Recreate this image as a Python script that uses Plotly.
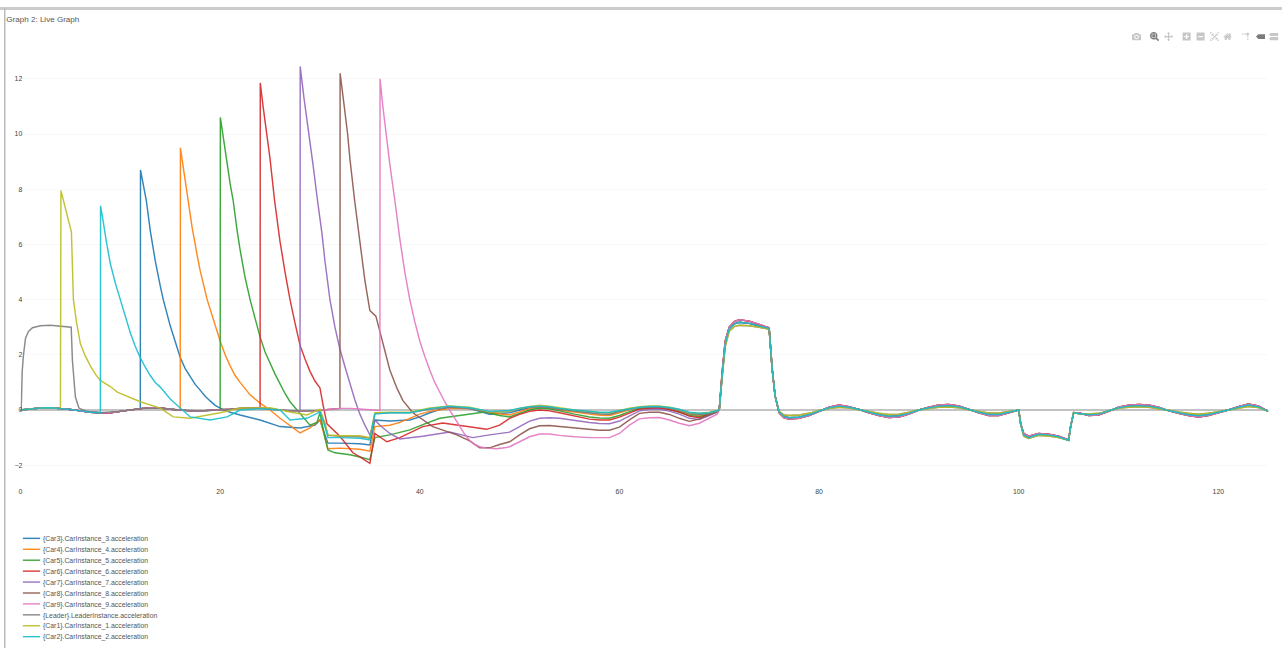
import plotly.graph_objects as go

SCALE = 0.575

NAMES = ["{Car3}.CarInstance_3.acceleration", "{Car4}.CarInstance_4.acceleration",
         "{Car5}.CarInstance_5.acceleration", "{Car6}.CarInstance_6.acceleration",
         "{Car7}.CarInstance_7.acceleration", "{Car8}.CarInstance_8.acceleration",
         "{Car9}.CarInstance_9.acceleration", "{Leader}.LeaderInstance.acceleration",
         "{Car1}.CarInstance_1.acceleration", "{Car2}.CarInstance_2.acceleration"]
COLORS = ["#1f77b4", "#ff7f0e", "#2ca02c", "#d62728", "#9467bd", "#8c564b", "#e377c2",
          "#7f7f7f", "#bcbd22", "#17becf"]

# Shared early ripple, t = 0..36
PRE_X = list(range(0, 37))
PRE_Y = [0, .03, .07, .08, .05, .02, -.03, -.08, -.1, -.1, -.05, 0, .05, .08, .07, .03, 0, -.03, -.03,
         -.01, 0, .03, .06, .08, .07, .04, 0, -.03, -.04, -.04, -.02, .03, .06, .06, .04, .01, -.02]

# Middle part: each car's own samples up to t = 48
C3_X = [12.02, 12.3, 12.6, 13, 13.5, 14, 14.3, 15, 15.5, 16, 16.5, 17, 17.5, 18, 18.5, 19, 19.5, 20, 21, 22, 24, 26, 28, 29.5, 30, 30.4, 30.8, 32, 34, 35, 35.5, 37, 39, 40, 41, 42, 43, 45, 47]
C3_Y = [8.7, 8.2, 7.6, 6.5, 5.4, 4.5, 4, 3.05, 2.45, 1.9, 1.5, 1.2, .93, .72, .5, .33, .17, .07, -.08, -.18, -.36, -.6, -.65, -.55, -.36, -.8, -1.2, -1.2, -1.22, -1.27, -.36, -.4, -.36, -.25, -.1, .02, .1, .05, -.15]
C4_X = [16.02, 16.4, 16.8, 17.2, 17.7, 18, 18.7, 19, 19.5, 20, 20.5, 21, 21.5, 22, 23, 24, 25, 26, 28, 29, 30, 30.4, 30.8, 32, 34, 35, 35.5, 37, 38, 39, 40, 41, 43, 45, 47]
C4_Y = [9.5, 8.6, 7.6, 6.6, 5.6, 5.05, 4, 3.65, 3.05, 2.5, 2, 1.6, 1.25, 1, .55, .25, 0, -.3, -.83, -.65, -.35, -.9, -1.4, -1.38, -1.42, -1.49, -.6, -.55, -.45, -.3, -.15, -.05, .05, .06, -.1]
C5_X = [20.02, 20.5, 21, 21.3, 21.7, 22, 22.5, 23, 23.5, 24, 24.5, 25, 25.5, 26, 26.5, 27, 27.7, 29, 29.7, 30, 30.5, 30.8, 31.5, 33, 34, 35, 35.5, 37, 39, 40.5, 42, 44.5, 46.5, 48]
C5_Y = [10.6, 9.4, 8.2, 7.6, 6.5, 5.8, 4.8, 4, 3.3, 2.65, 2.1, 1.7, 1.3, .95, .6, .3, 0, -.55, -.45, -.1, -1, -1.45, -1.55, -1.62, -1.7, -1.8, -1, -.9, -.72, -.5, -.3, -.18, -.07, -.2]
C6_X = [24.02, 24.3, 24.65, 25, 25.45, 26, 26.5, 27, 27.5, 28, 28.5, 29, 29.5, 30, 30.3, 30.7, 32, 33.3, 34, 35, 35.5, 36.7, 38, 39, 40.3, 42.3, 44.7, 46.7, 48]
C6_Y = [11.85, 11, 10, 9.1, 7.6, 6.1, 5, 4, 3.15, 2.35, 1.85, 1.4, 1.05, .8, .2, -.5, -.95, -1.55, -1.7, -1.93, -.85, -1.15, -1, -.82, -.6, -.47, -.6, -.7, -.55]
C7_X = [28.02, 28.4, 28.9, 29.3, 29.75, 30.2, 30.5, 31, 31.5, 32, 32.6, 33, 33.5, 34, 34.5, 35, 35.5, 36, 37, 38, 40.3, 43, 45.3, 47, 48.3]
C7_Y = [12.45, 11.3, 10, 8.9, 7.6, 6.4, 5.4, 4, 3, 2.2, 1.45, .95, .36, -.15, -.55, -.9, -.35, -.55, -.85, -1.05, -.95, -.8, -1, -.9, -.83]
C8_X = [32.02, 32.4, 32.77, 33, 33.47, 34, 34.5, 35, 35.6, 36, 36.5, 37, 37.7, 38.3, 39.3, 41.3, 43.7, 45, 46, 47, 48]
C8_Y = [12.2, 11.1, 10, 9.1, 7.6, 6.1, 4.7, 3.6, 3.4, 2.85, 2.15, 1.45, .8, .35, -.1, -.6, -.9, -1.12, -1.37, -1.37, -1.25]
C9_X = [36.02, 36.3, 36.6, 37, 37.5, 38, 38.5, 39, 39.5, 40, 40.5, 41, 41.5, 42, 42.5, 43, 43.5, 44, 44.5, 45, 45.5, 46, 46.7, 47.7, 48.5]
C9_Y = [12, 11, 10.1, 8.9, 7.6, 6.2, 5, 4, 3.2, 2.5, 1.95, 1.45, 1, .65, .3, 0, -.3, -.6, -.88, -1.1, -1.25, -1.33, -1.38, -1.4, -1.37]
LEAD_X = [.07, .17, .3, .5, .8, 1.2, 2, 3, 5.08, 5.2, 5.5, 5.85, 6.5, 7.7, 9, 10, 12, 14, 16, 18, 20, 23, 26, 28, 30, 30.5, 30.8, 32, 34, 35, 35.5, 37, 39, 41, 43, 45, 47]
LEAD_Y = [0, 1.4, 2, 2.6, 2.85, 2.98, 3.05, 3.07, 3, 1.8, .47, .07, -.03, -.1, -.08, -.05, .05, .07, 0, -.03, 0, .08, 0, -.04, -.02, -.5, -.92, -.95, -.97, -1.02, -.12, -.1, -.1, .03, .1, .05, -.1]
C1_X = [4.05, 4.3, 5.1, 5.3, 5.6, 6, 6.5, 7, 7.5, 8, 9, 9.7, 12, 14, 15.3, 17, 20, 22, 25, 27, 28.7, 30, 30.5, 30.8, 32, 34, 35, 35.5, 37, 39, 41, 43, 45, 47]
C1_Y = [7.95, 7.6, 6.45, 4, 3.2, 2.4, 1.95, 1.6, 1.3, 1.07, .85, .65, .3, .07, -.25, -.3, -.1, .07, .08, -.07, -.18, .03, -.5, -.9, -.93, -.93, -1, -.1, -.08, -.08, .07, .15, .1, -.07]
C2_X = [8.02, 8.3, 8.6, 9, 9.5, 10, 10.5, 11, 11.5, 12, 12.5, 13, 13.5, 14, 15, 16, 17, 19, 20.7, 22, 24, 26, 27, 28.7, 30, 30.5, 30.8, 32, 34, 35, 35.5, 37, 39, 41, 43, 45, 47]
C2_Y = [7.4, 6.8, 6.1, 5.3, 4.6, 4, 3.4, 2.8, 2.3, 1.9, 1.55, 1.25, 1, .83, .4, .07, -.25, -.36, -.25, 0, .05, 0, -.36, -.3, -.07, -.6, -1, -1, -1.02, -1.08, -.15, -.1, -.1, .05, .14, .08, -.05]

# Slow wave, t = 49..69.8
WAVE_X = [49, 50, 51, 52, 53, 54, 55.5, 57, 58, 59, 60, 61, 62, 63, 64, 65, 66, 67, 68, 69, 69.8]
W3 = [-.1, 0, .08, .12, .09, .03, -.04, -.1, -.14, -.15, -.06, .04, .09, .11, .12, .07, -.02, -.12, -.15, -.11, -.04]
W4 = [-.18, -.06, .05, .1, .07, 0, -.08, -.15, -.19, -.2, -.1, .01, .07, .09, .1, .04, -.05, -.16, -.2, -.14, -.05]
W5 = [-.25, -.12, 0, .07, .04, -.03, -.15, -.25, -.29, -.3, -.2, -.06, .05, .07, .08, .02, -.08, -.2, -.24, -.15, -.05]
W6 = [-.3, -.16, -.05, 0, -.03, -.1, -.22, -.33, -.36, -.36, -.26, -.12, .03, .06, .07, .02, -.07, -.22, -.28, -.16, -.05]
W7 = [-.8, -.6, -.4, -.3, -.28, -.3, -.38, -.45, -.49, -.5, -.4, -.22, -.03, .02, .03, -.04, -.15, -.3, -.34, -.2, -.07]
W8 = [-1.15, -.9, -.68, -.57, -.56, -.6, -.65, -.7, -.73, -.73, -.62, -.36, -.12, -.08, -.08, -.16, -.3, -.41, -.33, -.17, -.08]
W9 = [-1.33, -1.15, -.97, -.87, -.87, -.92, -.97, -1, -1, -1, -.85, -.55, -.32, -.28, -.27, -.36, -.48, -.57, -.48, -.3, -.15]
WL = [-.03, .05, .1, .12, .09, .03, -.04, -.1, -.14, -.15, -.06, .03, .08, .11, .12, .06, -.02, -.14, -.17, -.13, -.05]
W1 = [-.05, .06, .13, .17, .14, .08, 0, -.05, -.09, -.1, -.02, .07, .12, .15, .15, .1, .02, -.1, -.12, -.08, -.02]
W2 = [-.02, .07, .12, .14, .12, .06, 0, -.05, -.08, -.08, -.02, .05, .1, .13, .13, .09, .03, -.08, -.12, -.1, -.03]

# Late response, t = 70..125
TAIL_X = [70, 70.3, 70.6, 71, 71.5, 72, 73, 74, 75, 75.3, 75.6, 76, 76.5, 77] + list(range(78, 100)) + \
         [100, 100.2, 100.5, 101, 102, 103, 104, 105, 105.2, 105.5, 106, 107] + list(range(108, 126))
TAIL_HIGH = [0, 1.4, 2.5, 3.0, 3.2, 3.27, 3.22, 3.1, 2.98, 1.5, .5, -.1, -.28, -.33,
             -.3, -.2, -.05, .1, .18, .12, .02, -.1, -.2, -.27, -.25, -.15, 0, .1, .18, .2, .15, .02, -.1, -.2, -.2, -.1,
             0, -.5, -.85, -.95, -.85, -.88, -.95, -1.08, -.6, -.12, -.1, -.2,
             -.18, -.05, .1, .17, .2, .18, .1, -.02, -.12, -.2, -.25, -.2, -.1, 0, .12, .22, .15, -.05]
TAIL_MID = [0, 1.3, 2.4, 2.95, 3.12, 3.18, 3.14, 3.05, 2.95, 1.5, .5, -.08, -.24, -.28,
            -.26, -.17, -.04, .08, .14, .1, .02, -.08, -.17, -.23, -.21, -.12, 0, .08, .14, .16, .12, .02, -.08, -.16, -.16, -.08,
            0, -.5, -.9, -1, -.88, -.9, -.97, -1.1, -.6, -.1, -.12, -.17,
            -.15, -.04, .08, .14, .16, .14, .08, -.02, -.1, -.17, -.21, -.17, -.08, 0, .1, .18, .12, -.05]
TAIL_LOW = [0, 1.2, 2.3, 2.85, 3.02, 3.07, 3.05, 3.0, 2.92, 1.5, .5, -.05, -.18, -.2,
            -.18, -.12, -.02, .05, .1, .07, .01, -.05, -.12, -.16, -.15, -.08, 0, .05, .1, .11, .08, .01, -.05, -.11, -.11, -.05,
            0, -.5, -.95, -1.03, -.92, -.94, -1, -1.1, -.6, -.08, -.14, -.14,
            -.12, -.03, .06, .1, .12, .1, .05, -.01, -.07, -.12, -.15, -.12, -.06, 0, .07, .13, .09, -.05]

# Car: index where the shared ripple stops, own samples, wave, tail
P3, P4, P5, P6, P7, P8, P9 = 13, 17, 21, 25, 29, 33, 37
series = [
    (PRE_X[:P3] + C3_X + WAVE_X + TAIL_X, PRE_Y[:P3] + C3_Y + W3 + TAIL_MID),
    (PRE_X[:P4] + C4_X + WAVE_X + TAIL_X, PRE_Y[:P4] + C4_Y + W4 + TAIL_HIGH),
    (PRE_X[:P5] + C5_X + WAVE_X + TAIL_X, PRE_Y[:P5] + C5_Y + W5 + TAIL_MID),
    (PRE_X[:P6] + C6_X + WAVE_X + TAIL_X, PRE_Y[:P6] + C6_Y + W6 + TAIL_HIGH),
    (PRE_X[:P7] + C7_X + WAVE_X + TAIL_X, PRE_Y[:P7] + C7_Y + W7 + TAIL_MID),
    (PRE_X[:P8] + C8_X + WAVE_X + TAIL_X, PRE_Y[:P8] + C8_Y + W8 + TAIL_HIGH),
    (PRE_X[:P9] + C9_X + WAVE_X + TAIL_X, PRE_Y[:P9] + C9_Y + W9 + TAIL_HIGH),
    ([0] + LEAD_X + WAVE_X + TAIL_X, [0] + LEAD_Y + WL + TAIL_LOW),
    (PRE_X[:5] + C1_X + WAVE_X + TAIL_X, PRE_Y[:5] + C1_Y + W1 + TAIL_LOW),
    (PRE_X[:9] + C2_X + WAVE_X + TAIL_X, PRE_Y[:9] + C2_Y + W2 + TAIL_MID),
]
for sx, sy in series:
    assert len(sx) == len(sy), (len(sx), len(sy))

W, H = 1282, 648
FW, FH = W / SCALE, H / SCALE
PLOT_L, PLOT_R, PLOT_T, PLOT_B = 20.5, 1268, 60, 478


def px(v):
    return v / W


def py(v):
    return 1 - v / H


fig = go.Figure()
for (sx, sy), n, c in zip(series, NAMES, COLORS):
    fig.add_trace(go.Scatter(x=sx, y=sy, name=n, mode="lines", opacity=0.9, line=dict(color=c, width=2.5)))

fig.update_layout(
    width=FW, height=FH, paper_bgcolor="white", plot_bgcolor="white",
    margin=dict(l=0, r=0, t=0, b=0, pad=0),
    font=dict(family="Liberation Sans, Arial, sans-serif", size=12, color="#444"),
    xaxis=dict(domain=[px(PLOT_L), px(PLOT_R)], range=[0, 125], dtick=20, showgrid=False, zeroline=False,
               showline=False, ticks="", automargin=False, ticklabelstandoff=14),
    yaxis=dict(domain=[py(PLOT_B), py(PLOT_T)], range=[(PLOT_B - 410) / -27.6, (410 - PLOT_T) / 27.6], dtick=2,
               gridcolor="#f2f2f2", zeroline=True, zerolinecolor="#c4c4c4", zerolinewidth=3, showline=False,
               ticks="", automargin=False, ticklabelstandoff=-4),
    legend=dict(x=px(20), y=py(530), xanchor="left", yanchor="top", bgcolor="rgba(0,0,0,0)",
                font=dict(size=12, color="#555")),
    showlegend=True,
    modebar=dict(color="rgba(68,68,68,0.3)", activecolor="rgba(68,68,68,0.7)", bgcolor="rgba(0,0,0,0)"),
    annotations=[dict(text="Graph 2: Live Graph", xref="paper", yref="paper", x=px(5), y=py(19.5), xanchor="left",
                      yanchor="middle", showarrow=False, font=dict(size=14, color="#555"))],
    shapes=[
        dict(type="rect", xref="paper", yref="paper", x0=px(0), x1=px(W), y0=py(7), y1=py(10),
             fillcolor="#ccc", line_width=0),
        dict(type="rect", xref="paper", yref="paper", x0=px(4), x1=px(5.5), y0=py(8), y1=py(H),
             fillcolor="#bbb", line_width=0),
    ],
)

BUTTONS = [["toImage"], ["zoom2d", "pan2d"], ["zoomIn2d", "zoomOut2d", "autoScale2d", "resetScale2d"],
           ["toggleSpikelines", "hoverClosestCartesian", "hoverCompareCartesian"]]
fig.write_html("out.html", config=dict(displayModeBar=True, displaylogo=False, modeBarButtons=BUTTONS),
               post_script="document.body.style.margin='0';document.body.style.zoom='%s';"
                           "document.querySelectorAll('.modebar-container').forEach(function(m){m.style.top='50px';});"
                           % SCALE)
